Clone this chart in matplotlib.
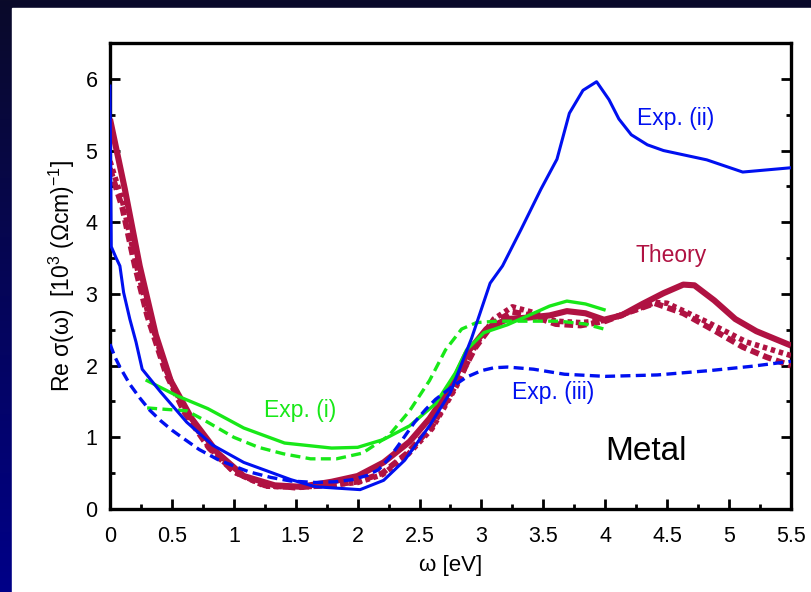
import numpy as np
import matplotlib
matplotlib.use("Agg")
import matplotlib.pyplot as plt
from matplotlib.patches import Rectangle
from matplotlib.ticker import MultipleLocator
from matplotlib.colors import LinearSegmentedColormap

plt.rcParams['font.family'] = ['Liberation Sans', 'DejaVu Sans']
plt.rcParams['mathtext.default'] = 'regular'

# --- optical conductivity data (omega in eV, Re sigma in 10^3 (Ohm cm)^-1) ---
theory_x = [0.0, 0.12, 0.24, 0.37, 0.49, 0.66, 0.87, 1.08, 1.33, 1.54, 1.79, 2.0,
            2.21, 2.42, 2.58, 2.75, 2.88, 3.04, 3.21, 3.38, 3.55, 3.69, 3.84, 3.99,
            4.13, 4.3, 4.47, 4.63, 4.72, 4.88, 5.05, 5.22, 5.5]
theory_y = [5.44, 4.46, 3.39, 2.43, 1.79, 1.26, 0.78, 0.46, 0.33, 0.31, 0.38, 0.46,
            0.65, 0.94, 1.26, 1.69, 2.17, 2.51, 2.65, 2.67, 2.7, 2.76, 2.73, 2.64,
            2.7, 2.86, 3.01, 3.13, 3.12, 2.91, 2.65, 2.48, 2.28]

theory_b_x = [0.0, 0.1, 0.2, 0.3, 0.45, 0.6, 0.8, 1.0, 1.25, 1.5, 1.75, 2.0, 2.2,
              2.4, 2.6, 2.8, 2.95, 3.1, 3.25, 3.4, 3.6, 3.8, 4.0, 4.2, 4.4, 4.63,
              4.87, 5.11, 5.3, 5.5]
theory_b_y = [4.75, 4.2, 3.4, 2.7, 1.9, 1.35, 0.85, 0.52, 0.33, 0.3, 0.33, 0.38, 0.5,
              0.78, 1.15, 1.75, 2.25, 2.6, 2.75, 2.7, 2.58, 2.56, 2.62, 2.75, 2.87, 2.73,
              2.5, 2.26, 2.12, 2.0]

theory_c_x = [0.0, 0.1, 0.2, 0.3, 0.45, 0.6, 0.8, 1.0, 1.25, 1.5, 1.75, 2.0, 2.2,
              2.4, 2.6, 2.8, 2.95, 3.1, 3.25, 3.4, 3.6, 3.8, 4.0, 4.2, 4.4, 4.5,
              4.82, 5.14, 5.5]
theory_c_y = [4.85, 4.3, 3.5, 2.78, 1.95, 1.38, 0.86, 0.52, 0.32, 0.3, 0.33, 0.37, 0.48,
              0.75, 1.12, 1.72, 2.28, 2.65, 2.82, 2.75, 2.62, 2.6, 2.63, 2.75, 2.88, 2.87,
              2.61, 2.33, 2.14]

exp1_x = [0.3, 0.54, 0.79, 1.08, 1.41, 1.79, 2.0, 2.21, 2.42, 2.63, 2.79, 2.88,
          3.02, 3.21, 3.42, 3.55, 3.69, 3.84, 3.99]
exp1_y = [1.79, 1.58, 1.4, 1.13, 0.92, 0.85, 0.86, 0.97, 1.16, 1.47, 1.9, 2.22,
          2.46, 2.57, 2.73, 2.83, 2.9, 2.86, 2.78]

exp1b_x = [0.3, 0.45, 0.62, 0.75, 0.87, 1.0, 1.2, 1.4, 1.62, 1.83, 2.04, 2.25, 2.42,
           2.58, 2.71, 2.84, 2.96, 3.13, 3.38, 3.63, 3.84, 3.99]
exp1b_y = [1.41, 1.39, 1.37, 1.25, 1.13, 1.0, 0.86, 0.77, 0.7, 0.7, 0.78, 1.02, 1.37,
           1.79, 2.22, 2.51, 2.6, 2.62, 2.62, 2.62, 2.58, 2.51]

exp2_x = [0.0, 0.01, 0.05, 0.08, 0.11, 0.16, 0.21, 0.26, 0.41, 0.62, 0.83, 1.08, 1.46,
          1.66, 2.02, 2.21, 2.38, 2.58, 2.75, 2.92, 3.07, 3.17, 3.32, 3.48, 3.61,
          3.71, 3.82, 3.93, 4.03, 4.11, 4.21, 4.34, 4.47, 4.82, 5.11, 5.5]
exp2_y = [5.9, 3.66, 3.5, 3.39, 3.02, 2.65, 2.33, 1.95, 1.63, 1.21, 0.89, 0.65, 0.41,
          0.31, 0.27, 0.4, 0.68, 1.16, 1.63, 2.38, 3.15, 3.39, 3.9, 4.46, 4.88,
          5.52, 5.84, 5.96, 5.71, 5.44, 5.22, 5.08, 5.0, 4.87, 4.7, 4.76]

exp3_x = [0.0, 0.04, 0.08, 0.16, 0.24, 0.32, 0.41, 0.5, 0.58, 0.72, 0.87, 1.0, 1.12,
          1.3, 1.46, 1.66, 1.82, 1.96, 2.08, 2.17, 2.25, 2.33, 2.46, 2.55, 2.63, 2.75,
          2.88, 3.0, 3.1, 3.21, 3.42, 3.67, 4.0, 4.42, 4.84, 5.18, 5.5]
exp3_y = [2.3, 2.12, 1.98, 1.74, 1.55, 1.38, 1.23, 1.1, 1.0, 0.83, 0.69, 0.6, 0.52,
          0.44, 0.39, 0.37, 0.38, 0.41, 0.47, 0.55, 0.7, 0.89, 1.21, 1.39, 1.53, 1.69,
          1.84, 1.93, 1.97, 1.98, 1.95, 1.88, 1.85, 1.87, 1.93, 1.99, 2.06]

xticks = [0, 0.5, 1, 1.5, 2, 2.5, 3, 3.5, 4, 4.5, 5, 5.5]
xticklabels = ['0', '0.5', '1', '1.5', '2', '2.5', '3', '3.5', '4', '4.5', '5', '5.5']
yticks = [0, 1, 2, 3, 4, 5, 6]

crimson = '#B01242'
blue = '#0010F0'
green = '#18E818'

W, H = 812, 592
fig = plt.figure(figsize=(W / 100, H / 100), dpi=100)

# slide-style backdrop: dark navy gradient frame with a white panel
bg = fig.add_axes([0, 0, 1, 1], zorder=-10)
grad = np.linspace(0, 1, 256).reshape(-1, 1)
cmap = LinearSegmentedColormap.from_list('navy', ['#000088', '#0a0a2a'])
bg.imshow(grad, cmap=cmap, aspect='auto', extent=[0, 1, 0, 1], origin='lower')
bg.add_patch(Rectangle((12 / W, 0), 1, 1 - 8 / H, color='white', zorder=2))
bg.set_xlim(0, 1)
bg.set_ylim(0, 1)
bg.axis('off')

ax = fig.add_axes([110 / W, 1 - 509 / H, (791 - 110) / W, (509 - 43) / H])
ax.set_facecolor('white')

ax.plot(theory_c_x, theory_c_y, color=crimson, lw=4.0, ls=(0, (0.8, 0.7)), zorder=3)
ax.plot(theory_b_x, theory_b_y, color=crimson, lw=4.2, ls=(0, (1.5, 0.8)), zorder=3)
ax.plot(theory_x, theory_y, color=crimson, lw=4.4, zorder=4, solid_capstyle='butt')

ax.plot(exp1b_x, exp1b_y, color=green, lw=2.4, ls=(0, (3, 1.6)), zorder=5)
ax.plot(exp1_x, exp1_y, color=green, lw=2.4, zorder=5)
ax.plot(exp3_x, exp3_y, color=blue, lw=2.4, ls=(0, (3, 1.6)), zorder=6)
ax.plot(exp2_x, exp2_y, color=blue, lw=2.2, zorder=6)

ax.text(4.26, 5.45, 'Exp. (ii)', color=blue, fontsize=16.5, va='center', ha='left')
ax.text(4.245, 3.53, 'Theory', color=crimson, fontsize=16.5, va='center', ha='left')
ax.text(1.24, 1.38, 'Exp. (i)', color=green, fontsize=16.5, va='center', ha='left')
ax.text(3.25, 1.62, 'Exp. (iii)', color=blue, fontsize=16.5, va='center', ha='left')
ax.text(4.0, 0.8, 'Metal', color='black', fontsize=24, va='center', ha='left')

ax.set_xlim(0, 5.5)
ax.set_ylim(0, 6.5)
ax.set_xticks(xticks)
ax.set_xticklabels(xticklabels)
ax.set_yticks(yticks)
ax.xaxis.set_minor_locator(MultipleLocator(0.25))
ax.yaxis.set_minor_locator(MultipleLocator(0.5))
ax.tick_params(which='both', direction='in', top=False, right=True, width=2.0,
               labelsize=15.5, colors='black')
ax.tick_params(which='major', length=7)
ax.tick_params(which='minor', length=3.5)
ax.tick_params(axis='x', which='major', pad=12)
ax.tick_params(axis='y', which='major', pad=9)
for sp in ax.spines.values():
    sp.set_linewidth(2.4)
    sp.set_color('black')

ax.set_xlabel('ω [eV]', fontsize=16, labelpad=6)
ax.set_ylabel('Re σ(ω)  [10$^{3}$ (Ωcm)$^{-1}$]', fontsize=16.5, labelpad=6)

fig.savefig('out.png', dpi=100)
